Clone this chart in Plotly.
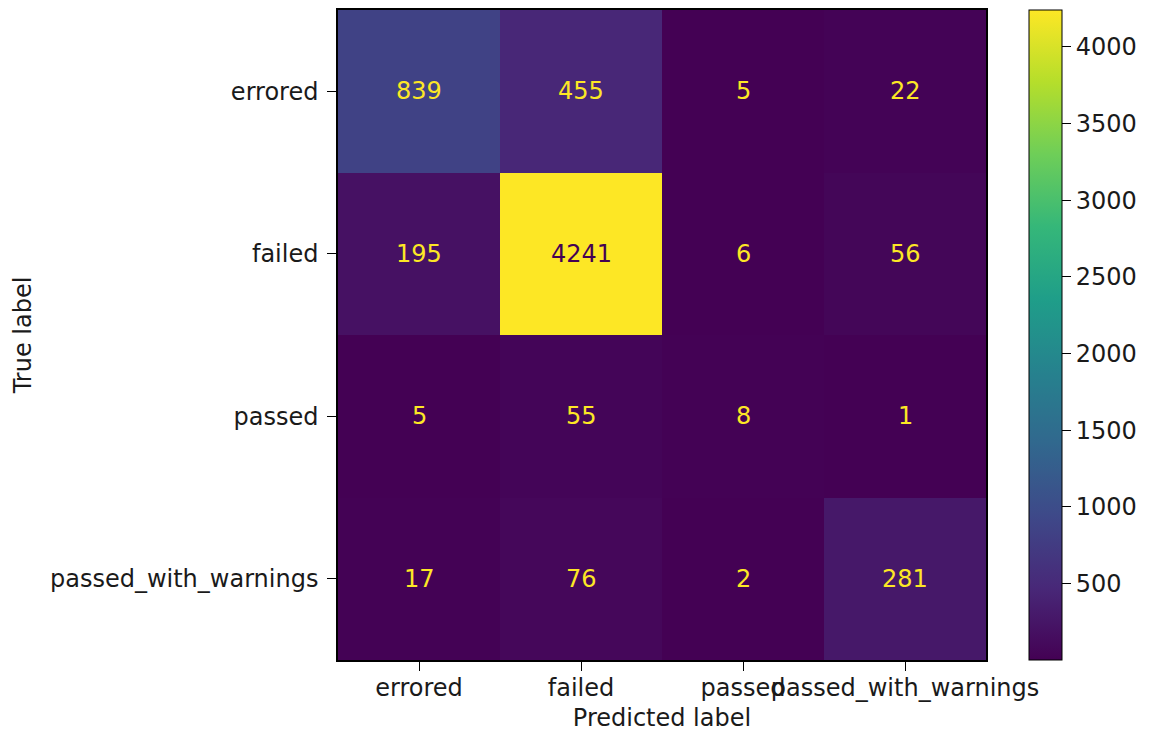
import plotly.graph_objects as go

# Confusion matrix of test outcome classes
labels = ["errored", "failed", "passed", "passed_with_warnings"]
counts = [
    [839, 455, 5, 22],
    [195, 4241, 6, 56],
    [5, 55, 8, 1],
    [17, 76, 2, 281],
]
cbar_ticks = [500, 1000, 1500, 2000, 2500, 3000, 3500, 4000]

FONT = "DejaVu Sans"
FS = 24
TXT = "#1a1a1a"
zmin = min(min(r) for r in counts)
zmax = max(max(r) for r in counts)
viridis_lo, viridis_hi = "#440154", "#fde725"
threshold = (zmin + zmax) / 2.0

fig = go.Figure(
    go.Heatmap(
        z=counts,
        x=labels,
        y=labels,
        zmin=zmin,
        zmax=zmax,
        colorscale="Viridis",
        hoverinfo="skip",
        colorbar=dict(
            xref="container",
            x=1029 / 1149,
            xanchor="left",
            xpad=0,
            ypad=0,
            yref="paper",
            y=0.5,
            yanchor="middle",
            len=1,
            lenmode="fraction",
            thickness=33,
            outlinecolor="black",
            outlinewidth=1,
            tickvals=cbar_ticks,
            tickprefix="\u00a0",
            ticks="outside",
            ticklen=9,
            tickwidth=1,
            tickcolor="black",
            tickfont=dict(family=FONT, size=FS, color=TXT),
        ),
    )
)

# Cell value annotations, dark text on bright cells
for i, row in enumerate(counts):
    for j, v in enumerate(row):
        fig.add_annotation(
            x=labels[j],
            y=labels[i],
            text=str(v),
            showarrow=False,
            font=dict(family=FONT, size=FS, color=viridis_lo if v >= threshold else viridis_hi),
        )

axis_common = dict(
    showline=True,
    linecolor="black",
    linewidth=1.5,
    mirror=True,
    ticks="outside",
    ticklen=9,
    tickwidth=1,
    tickcolor="black",
    showgrid=False,
    zeroline=False,
    tickangle=0,
    tickfont=dict(family=FONT, size=FS, color=TXT),
    automargin=False,
)

fig.update_xaxes(
    **axis_common,
    ticklabelstandoff=-4,
    title=dict(text="Predicted label", font=dict(family=FONT, size=FS, color=TXT), standoff=9),
)
fig.update_yaxes(
    **axis_common,
    autorange="reversed",
    ticklabelstandoff=4,
    title=dict(text="True label", font=dict(family=FONT, size=FS, color=TXT), standoff=12),
)

fig.update_layout(
    width=1149,
    height=734,
    margin=dict(l=338, r=163, t=10, b=74),
    paper_bgcolor="white",
    plot_bgcolor="white",
    font=dict(family=FONT, size=FS),
)

fig.write_html("out.html")
